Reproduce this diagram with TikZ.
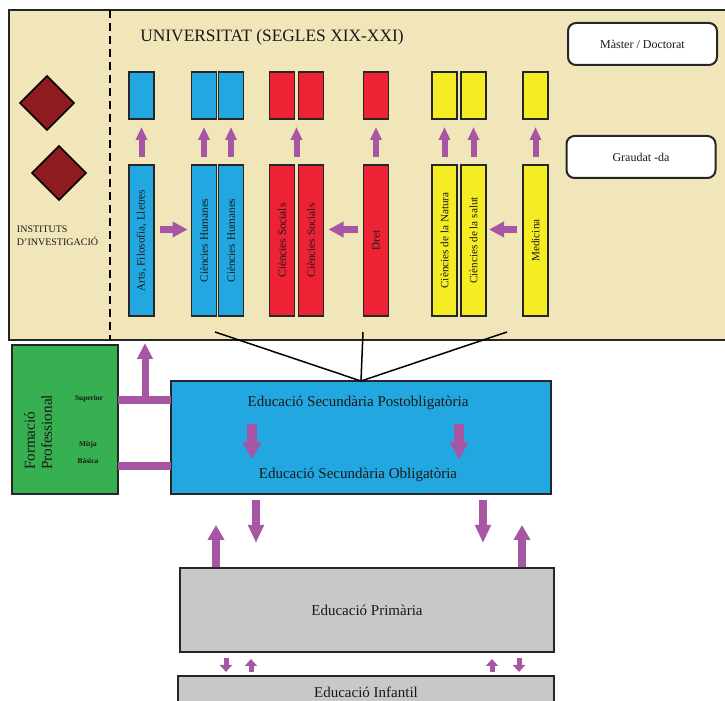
\documentclass[tikz,border=0pt]{standalone}
\usepackage{amsmath}
\usepackage{fontspec}
\setmainfont{Liberation Serif}
\usepackage{tikz}
\usetikzlibrary{shapes.geometric,arrows.meta,calc}

\definecolor{uniback}{RGB}{241,230,185}
\definecolor{uniblue}{RGB}{34,167,224}
\definecolor{unired}{RGB}{237,34,52}
\definecolor{uniyellow}{RGB}{245,236,35}
\definecolor{fpgreen}{RGB}{54,176,80}
\definecolor{arrowpurple}{RGB}{167,86,165}
\definecolor{instred}{RGB}{142,27,32}
\definecolor{boxgray}{RGB}{200,200,200}

\begin{document}
\begin{tikzpicture}[x=0.5pt, y=-0.5pt,
  every node/.style={inner sep=0pt, outer sep=0pt, text=black!90},
  col/.style={draw=black!85, line width=0.7pt, minimum width=12.5pt},
  colT/.style={col, minimum height=75.5pt, font=\fontsize{5.6}{6}\selectfont},
  colS/.style={col, minimum height=23.5pt},
  rbox/.style={draw=black!85, line width=1pt, fill=white, rounded corners=4pt, minimum width=74.5pt, minimum height=21pt, font=\fontsize{6}{7}\selectfont},
  bigbox/.style={draw=black!85, line width=0.9pt},
  edtext/.style={font=\fontsize{7.5}{8}\selectfont},
  level/.style={font=\fontsize{3.7}{4}\selectfont\bfseries},
  pa/.style n args={3}{draw=arrowpurple, line width=#1, -{Triangle[width=#2,length=#3]}},
  bar/.style={draw=arrowpurple, line width=4pt}]
			\useasboundingbox (0,0) rectangle (725,701);
			% universitat
			\node[bigbox, fill=uniback, minimum width=360pt, minimum height=165pt] (uni) at (369,175){};
			\draw[line width=1.2pt, dash pattern=on 4pt off 2.5pt] (110,10) -- (110,340);
			\node[font=\fontsize{8.7}{10}\selectfont] (title) at (272,37){UNIVERSITAT (SEGLES XIX-XXI)};
			
			\node[diamond, draw=black, line width=0.8pt, fill=instred, minimum width=27pt, minimum height=27pt] (inst1) at (47,103){};
			\node[diamond, draw=black, line width=0.8pt, fill=instred, minimum width=27pt, minimum height=27pt] (inst2) at (59,173){};
			\node[anchor=west, align=left, font=\fontsize{5}{6.5}\selectfont] (inst) at (17,236){INSTITUTS\\D'INVESTIGACIÓ};
			
			\node[colT, fill=uniblue] (arts) at (141.5,240.5){\rotatebox{90}{Arts, Filosofia, Lletres}};
			\node[colT, fill=uniblue] (hum1) at (204,240.5){\rotatebox{90}{Ciències Humanes}};
			\node[colT, fill=uniblue] (hum2) at (231,240.5){\rotatebox{90}{Ciències Humanes}};
			\node[colT, fill=unired] (soc1) at (282,240.5){\rotatebox{90}{Ciències Socials}};
			\node[colT, fill=unired] (soc2) at (311,240.5){\rotatebox{90}{Ciències Socials}};
			\node[colT, fill=unired] (dret) at (376,240.5){\rotatebox{90}{Dret}};
			\node[colT, fill=uniyellow] (nat) at (444.5,240.5){\rotatebox{90}{Ciències de la Natura}};
			\node[colT, fill=uniyellow] (salut) at (473.5,240.5){\rotatebox{90}{Ciències de la salut}};
			\node[colT, fill=uniyellow] (med) at (535.5,240.5){\rotatebox{90}{Medicina}};
			
			\node[colS, fill=uniblue] (artsM) at (141.5,95.5){};
			\node[colS, fill=uniblue] (hum1M) at (204,95.5){};
			\node[colS, fill=uniblue] (hum2M) at (231,95.5){};
			\node[colS, fill=unired] (soc1M) at (282,95.5){};
			\node[colS, fill=unired] (soc2M) at (311,95.5){};
			\node[colS, fill=unired] (dretM) at (376,95.5){};
			\node[colS, fill=uniyellow] (natM) at (444.5,95.5){};
			\node[colS, fill=uniyellow] (salutM) at (473.5,95.5){};
			\node[colS, fill=uniyellow] (medM) at (535.5,95.5){};
			
			\node[rbox] (master) at (642.5,44){Màster / Doctorat};
			\node[rbox] (grau) at (641,157){Graudat -da};
			
			\draw[pa={3pt}{5.5pt}{6.5pt}, shorten <=4pt, shorten >=4pt] (arts) -- (artsM);
			\draw[pa={3pt}{5.5pt}{6.5pt}, shorten <=4pt, shorten >=4pt] (hum1) -- (hum1M);
			\draw[pa={3pt}{5.5pt}{6.5pt}, shorten <=4pt, shorten >=4pt] (hum2) -- (hum2M);
			\draw[pa={3pt}{5.5pt}{6.5pt}, shorten <=4pt, shorten >=4pt] ($(soc1.north)!.5!(soc2.north)$) -- ($(soc1M.south)!.5!(soc2M.south)$);
			\draw[pa={3pt}{5.5pt}{6.5pt}, shorten <=4pt, shorten >=4pt] (dret) -- (dretM);
			\draw[pa={3pt}{5.5pt}{6.5pt}, shorten <=4pt, shorten >=4pt] (nat) -- (natM);
			\draw[pa={3pt}{5.5pt}{6.5pt}, shorten <=4pt, shorten >=4pt] (salut) -- (salutM);
			\draw[pa={3pt}{5.5pt}{6.5pt}, shorten <=4pt, shorten >=4pt] (med) -- (medM);
			
			\draw[pa={3.5pt}{7.5pt}{7.5pt}, shorten <=3pt, shorten >=2pt] ([yshift=5.5pt]arts.east) -- ([yshift=5.5pt]hum1.west);
			\draw[pa={3.5pt}{7.5pt}{7.5pt}, shorten <=3pt, shorten >=2.5pt] ([yshift=5.5pt]dret.west) -- ([yshift=5.5pt]soc2.east);
			\draw[pa={3.5pt}{7.5pt}{7.5pt}, shorten <=3pt, shorten >=1.5pt] ([yshift=5.5pt]med.west) -- ([yshift=5.5pt]salut.east);
			
			% secundaria
			\node[bigbox, fill=uniblue, minimum width=190pt, minimum height=56.5pt] (eso) at (361,437.5){};
			\node[edtext] (post) at (358,403){Educació Secundària Postobligatòria};
			\node[edtext] (oblig) at (358,475){Educació Secundària Obligatòria};
			\draw[pa={5pt}{9pt}{8.5pt}, shorten <=7pt, shorten >=4.5pt] (252,0 |- post.south) -- (252,0 |- oblig.north);
			\draw[pa={5pt}{9pt}{8.5pt}, shorten <=7pt, shorten >=4.5pt] (459,0 |- post.south) -- (459,0 |- oblig.north);
			
			\coordinate (l1) at (215,332);
			\coordinate (l2) at (363,332);
			\coordinate (l3) at (507,332);
			\draw[line width=0.75pt] (l1) -- (eso.north);
			\draw[line width=0.75pt] (l2) -- (eso.north);
			\draw[line width=0.75pt] (l3) -- (eso.north);
			
			% formacio professional
			\node[bigbox, fill=fpgreen, minimum width=53pt, minimum height=74.5pt] (fp) at (65,419.5){};
			\node[rotate=90, anchor=south west, align=left, font=\fontsize{7.6}{8.5}\selectfont] (fptext) at (52,470){Formació\\Professional};
			\node[level] (sup) at (89,399){Superior};
			\node[level] (mitja) at (88,445){Mitja};
			\node[level] (basica) at (88,461){Bàsica};
			
			\coordinate (fork) at (145,400);
			\coordinate (low) at (118,466);
			\draw[bar] (fp.east |- fork) -- (eso.west |- fork);
			\draw[bar] (low) -- (eso.west |- low);
			\draw[pa={3.5pt}{7.5pt}{8pt}, shorten >=1.5pt] (fork) -- (fork |- uni.south);
			
			% primaria, infantil
			\node[bigbox, fill=boxgray, minimum width=187pt, minimum height=42pt, edtext] (prim) at (367,610){Educació Primària};
			\node[bigbox, fill=boxgray, minimum width=188pt, minimum height=16pt, edtext] (inf) at (366,692){Educació Infantil};
			
			\draw[pa={4pt}{7.5pt}{9pt}, shorten <=3pt, shorten >=12.5pt] (256,0 |- eso.south) -- (256,0 |- prim.north);
			\draw[pa={4pt}{7.5pt}{9pt}, shorten <=3pt, shorten >=12.5pt] (483,0 |- eso.south) -- (483,0 |- prim.north);
			\draw[pa={4pt}{8pt}{7.5pt}, shorten <=0.5pt, shorten >=15.5pt] (216,0 |- prim.north) -- (216,0 |- eso.south);
			\draw[pa={4pt}{8pt}{7.5pt}, shorten <=0.5pt, shorten >=15.5pt] (522,0 |- prim.north) -- (522,0 |- eso.south);
			
			\draw[pa={2.5pt}{6pt}{3.5pt}, shorten <=3pt, shorten >=2pt] (226,0 |- prim.south) -- (226,0 |- inf.north);
			\draw[pa={2.5pt}{6pt}{3.5pt}, shorten <=2pt, shorten >=3.5pt] (251,0 |- inf.north) -- (251,0 |- prim.south);
			\draw[pa={2.5pt}{6pt}{3.5pt}, shorten <=2pt, shorten >=3.5pt] (492,0 |- inf.north) -- (492,0 |- prim.south);
			\draw[pa={2.5pt}{6pt}{3.5pt}, shorten <=3pt, shorten >=2pt] (519,0 |- prim.south) -- (519,0 |- inf.north);
\end{tikzpicture}
\end{document}
